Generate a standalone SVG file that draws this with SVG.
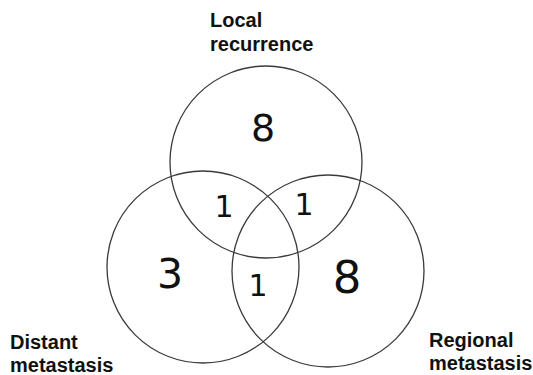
<svg xmlns="http://www.w3.org/2000/svg" width="533" height="375" viewBox="0 0 533 375">
<style>
.c{fill:none;stroke:#3a3a3a;stroke-width:1.3}
.lbl{font-family:"Liberation Sans",Arial,sans-serif;font-weight:bold;font-size:20px;fill:#111}
.n{font-family:"DejaVu Sans",sans-serif;fill:#111;text-anchor:middle}
</style>
<rect width="533" height="375" fill="#fff"/>
<g id="local">
<circle class="c" cx="266" cy="162" r="96"/>
<text class="lbl" x="210" y="27">Local</text>
<text class="lbl" x="210" y="51">recurrence</text>
<text class="n" x="263" y="141" font-size="38">8</text>
</g>
<g id="distant">
<circle class="c" cx="203" cy="267" r="96"/>
<text class="lbl" x="10" y="349">Distant</text>
<text class="lbl" x="10" y="372">metastasis</text>
<text class="n" x="170" y="288" font-size="41">3</text>
</g>
<g id="regional">
<circle class="c" cx="328" cy="271" r="96"/>
<text class="lbl" x="429" y="347">Regional</text>
<text class="lbl" x="429" y="370">metastasis</text>
<text class="n" x="347" y="293" font-size="45">8</text>
</g>
<g id="overlaps">
<text class="n" x="224" y="217" font-size="30">1</text>
<text class="n" x="304" y="215" font-size="30">1</text>
<text class="n" x="258" y="296" font-size="30">1</text>
</g>
<g id="connectors"></g>
</svg>
